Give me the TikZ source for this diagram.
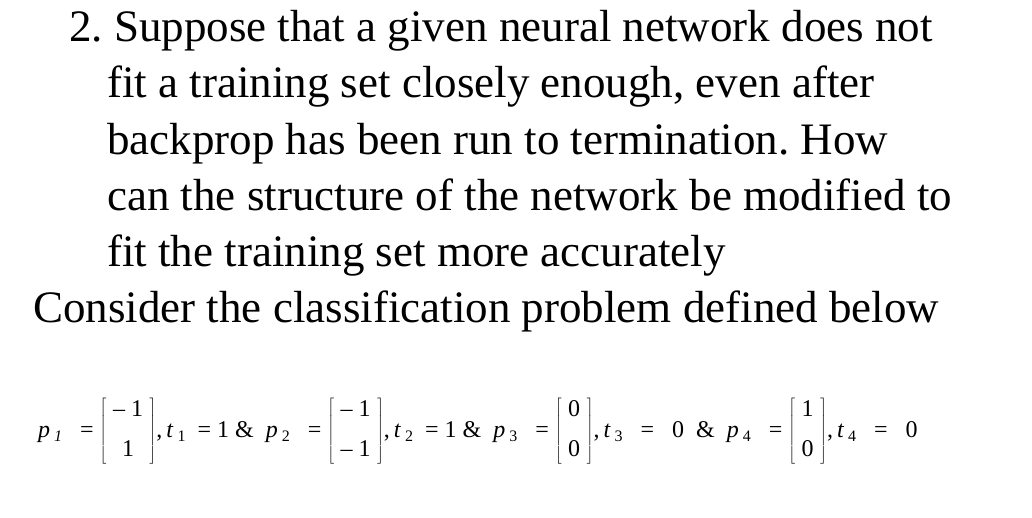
\documentclass[tikz,border=0pt]{standalone}
\usepackage{fontspec}
\setmainfont{Liberation Serif}
\usepackage{array}
\frenchspacing
\begin{document}
\begin{tikzpicture}[x=1pt,y=-1pt,
  line/.style={anchor=base west,inner sep=0pt,font=\fontsize{45}{54}\selectfont},
  eq/.style={anchor=base west,inner sep=0pt,font=\fontsize{24}{28}\selectfont}]
\useasboundingbox (0,0) rectangle (1032,518);
\node[line] (l1) at (69,42) {2. Suppose that a given neural network does not};
\node[line] (l2) at (107,98) {fit a training set closely enough, even after};
\node[line] (l3) at (107,155) {backprop has been run to termination. How};
\node[line] (l4) at (107,211) {can the structure of the network be modified to};
\node[line] (l5) at (107,267) {fit the training set more accurately};
\node[line] (l6) at (33,322) {Consider the classification problem defined below};
\newcommand{\vv}[2]{$\left[\vcenter{\hbox{\begin{tabular}{@{\;}c@{\;}}#1\\[12pt]#2\end{tabular}}}\right]$}
\newcommand{\sbs}[1]{\raisebox{-4pt}{\fontsize{16}{16}\selectfont #1}}
\node[eq] (e) at (38,437) {\textit{p}\,\sbs{\textit{1}}\ \ \ = \vv{-- 1}{1},\,\textit{t}\,\sbs{1}\ \ = 1 \&\ \ \textit{p}\,\sbs{2}\ \ \ = \vv{-- 1}{-- 1},\,\textit{t}\,\sbs{2}\ \ = 1 \&\ \ \textit{p}\,\sbs{3}\ \ \ = \vv{0}{0},\,\textit{t}\,\sbs{3}\ \ \ = \ \ 0 \ \&\ \ \textit{p}\,\sbs{4}\ \ \ = \vv{1}{0},\,\textit{t}\,\sbs{4}\ \ \ = \ \ 0};
\end{tikzpicture}
\end{document}
